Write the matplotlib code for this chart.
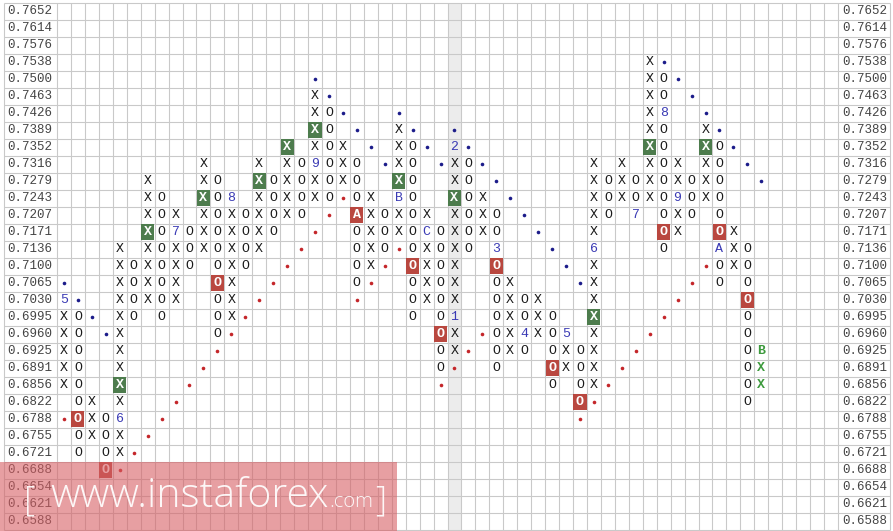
import matplotlib
matplotlib.use("Agg")
import matplotlib.pyplot as plt
from matplotlib.patches import Rectangle

# price levels, top to bottom
prices = ["0.7652", "0.7614", "0.7576", "0.7538", "0.7500", "0.7463", "0.7426",
          "0.7389", "0.7352", "0.7316", "0.7279", "0.7243", "0.7207", "0.7171",
          "0.7136", "0.7100", "0.7065", "0.7030", "0.6995", "0.6960", "0.6925",
          "0.6891", "0.6856", "0.6822", "0.6788", "0.6755", "0.6721", "0.6688",
          "0.6654", "0.6621", "0.6588"]

# cell runs per price row: (first column, symbols)
# X/O plain, x green box X, o red box O, a red box A, * blue dot, . red dot,
# 1-9/A/B/C month marks (blue), g green X, G green B
rows = [
    [],
    [],
    [],
    [(42, "X*")],
    [(18, "*"), (42, "XO*")],
    [(18, "X*"), (42, "XO *")],
    [(18, "XO*"), (24, "*"), (42, "X8  *")],
    [(18, "xO *"), (24, "X*"), (28, "*"), (42, "XO  X*")],
    [(16, "x XOX *"), (24, "XO*"), (28, "2*"), (42, "xO  xO*")],
    [(10, "X   X XO9OXO *XO *XO*"), (38, "X X XOX XO *")],
    [(6, "X   XO  xOXOXOXO  xO  XO *"), (38, "XOXOXOXOXO  *")],
    [(6, "XO  xO8 XOXOXO.OX BO  xOX *"), (38, "XOXOXO9OXO")],
    [(6, "XOX XOXOXOXO . aXOXOX XOXO *"), (38, "XO 7 OXO O")],
    [(6, "xO7OXOXOXO  .  OXOXOCOXOXO  *"), (38, "X    oX  oX")],
    [(4, "X XOXOXOXOX  .   OXO.OXOXO 3   *"), (38, "6    O   AXO")],
    [(4, "XOXOXO OXO  .    OX. oXOX  o    *"), (38, "X       .OXO")],
    [(0, "*"), (4, "XOXOX  oX  ."), (21, "O.  OXOX  OX    *X      . O O")],
    [(0, "5*  XOXOX  OX ."), (21, ".   OXOX  OXOX   X     .    o")],
    [(0, "XO* XO O   OX."), (25, "O O1  OXOXO  x    .     O")],
    [(0, "XO *X      O."), (27, "oX .OX4XO5 X   .      O")],
    [(0, "XO  X      ."), (27, "OX. OXO OXOX  .       OG")],
    [(0, "XO  X     ."), (27, "O.  O   oXOX .        Og")],
    [(0, "XO  x    ."), (27, ".       O OX.         Og")],
    [(1, "OX X   ."), (37, "o.          O")],
    [(0, ".oXO6  ."), (37, ".")],
    [(1, "OXOX .")],
    [(1, "O OX.")],
    [(3, "o.")],
    [],
    [],
    [],
]

n_cols = 56
today_col = 28

W, H = 893, 531
cw = (838 - 57) / n_cols
ch = 17.0
top = 2.7
nr = len(prices)

fig = plt.figure(figsize=(W / 100, H / 100), dpi=100)
ax = fig.add_axes([0, 0, 1, 1])
ax.set_xlim(-57 / cw, n_cols + (W - 838) / cw)
ax.set_ylim(nr + (H - top - nr * ch) / ch, -top / ch)
ax.axis("off")

xl = (4 - 57) / cw
xr = n_cols + (890 - 838) / cw
grid_c = "#c9c9c9"

ax.add_patch(Rectangle((today_col, 0), 1, nr, fc="#ececec", ec="none", zorder=0))
ax.hlines(range(nr + 1), xl, xr, colors=grid_c, lw=0.8, zorder=1)
ax.vlines(list(range(n_cols + 1)) + [xl, xr], 0, nr, colors=grid_c, lw=0.8, zorder=1)

mono = "Liberation Mono"
for r, p in enumerate(prices):
    ax.text(xl + 0.25, r + 0.68, p, family=mono, size=9, color="#444444",
            ha="left", va="baseline")
    ax.text(n_cols + 0.33, r + 0.68, p, family=mono, size=9, color="#444444",
            ha="left", va="baseline")

box_col = {"x": "#4d7c4d", "o": "#b9473f", "a": "#b9473f"}
box_txt = {"x": "X", "o": "O", "a": "A"}

for r, runs in enumerate(rows):
    for start, s in runs:
        for i, sym in enumerate(s):
            c = start + i
            if sym == " ":
                continue
            cx, by = c + 0.5, r + 0.69
            if sym in "XO":
                ax.text(cx, by, sym, family=mono, size=9.5, color="#1a1a1a",
                        ha="center", va="baseline", zorder=3)
            elif sym in box_col:
                ax.add_patch(Rectangle((c + 0.03, r + 0.04), 0.94, 0.92,
                                       fc=box_col[sym], ec="none", zorder=2))
                ax.text(cx, by, box_txt[sym], family=mono, size=9.5, weight="bold",
                        color="white", ha="center", va="baseline", zorder=3)
            elif sym == "*":
                ax.plot(cx, r + 0.5, "o", ms=2.6, color="#1c1c8a", mec="none", zorder=3)
            elif sym == ".":
                ax.plot(cx, r + 0.5, "o", ms=2.6, color="#c4262a", mec="none", zorder=3)
            elif sym in "gG":
                ax.text(cx, by, "X" if sym == "g" else "B", family=mono, size=9.5,
                        weight="bold", color="#3d9a3d", ha="center", va="baseline", zorder=3)
            else:
                ax.text(cx, by, sym, family=mono, size=9.5, color="#3a3ab4",
                        ha="center", va="baseline", zorder=3)

# watermark
fig.patches.append(Rectangle((0, 0), 397 / W, (H - 462) / H, transform=fig.transFigure,
                             fc="#d75f64", ec="none", alpha=0.6, zorder=5))
wm = dict(color="white", alpha=0.92, va="baseline", zorder=6, family="Open Sans")
fig.text(24 / W, 1 - 510 / H, "[", size=25, weight="light", **wm)
fig.text(50 / W, 1 - 507 / H, "www.instaforex", size=29.5, weight="light", **wm)
fig.text(329 / W, 1 - 507 / H, ".com", size=14.5, weight="light", **wm)
fig.text(375 / W, 1 - 510 / H, "]", size=25, weight="light", **wm)

fig.savefig("out.png", dpi=100)
